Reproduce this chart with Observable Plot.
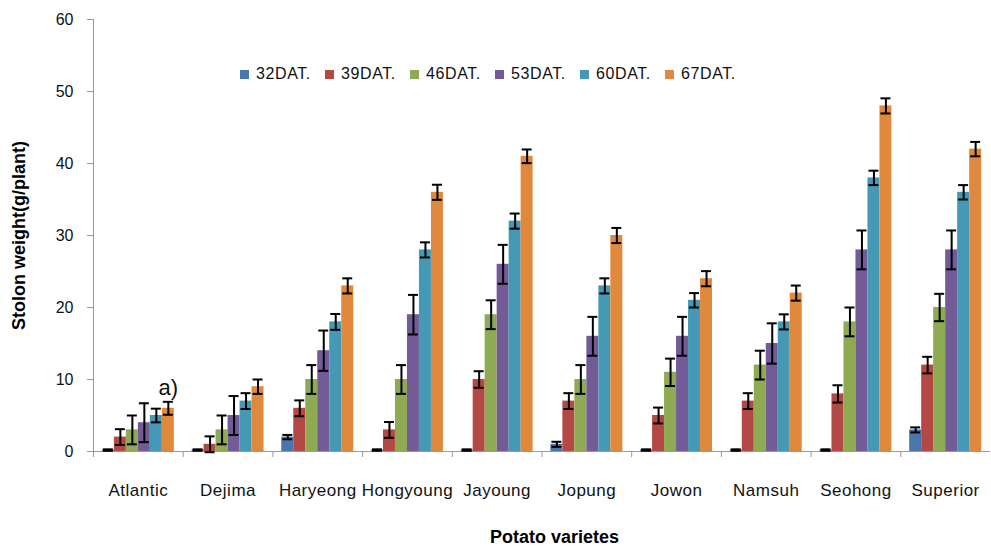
<!DOCTYPE html>
<html>
<head>
<meta charset="utf-8">
<script src="https://cdn.jsdelivr.net/npm/d3@7"></script>
<script src="https://cdn.jsdelivr.net/npm/@observablehq/plot@0.6"></script>
<style>
  body { margin: 0; background: #fff; font-family: "Liberation Sans", Arial, sans-serif; }
  #chart { position: relative; width: 991px; height: 548px; }
  #legend { position: absolute; top: 65px; left: 240px; display: flex; font-size: 16px; letter-spacing: 0.6px; color: #111; }
  #legend .item { display: flex; align-items: center; width: 85px; }
  #legend .sw { width: 9px; height: 9px; margin-right: 7px; }
  #xtitle { position: absolute; top: 527px; left: 490px; font-size: 18px; line-height: 20px; font-weight: bold; color: #000; white-space: nowrap; }
  svg [aria-label="y-axis label"] text { font-weight: bold; font-size: 18px; fill: #000; }
  svg [aria-label="fx-axis tick label"] text { letter-spacing: 0.5px; }
</style>
</head>
<body>
<div id="chart"><div id="legend"></div><div id="xtitle">Potato varietes</div></div>
<script>
// Potato varieties (x groups)
const varieties = ["Atlantic", "Dejima", "Haryeong", "Hongyoung", "Jayoung", "Jopung", "Jowon", "Namsuh", "Seohong", "Superior"];

// Sampling dates (days after transplanting)
const series = ["32DAT.", "39DAT.", "46DAT.", "53DAT.", "60DAT.", "67DAT."];
const colors = ["#4a76ad", "#b34845", "#8eaa52", "#735b98", "#4599b5", "#e0893d"];

// Mean stolon weight (g/plant), one value per variety
const w32 = [0.2, 0.2, 2, 0.2, 0.2, 1, 0.2, 0.2, 0.2, 3];
const w39 = [2, 1, 6, 3, 10, 7, 5, 7, 8, 12];
const w46 = [3, 3, 10, 10, 19, 10, 11, 12, 18, 20];
const w53 = [4, 5, 14, 19, 26, 16, 16, 15, 28, 28];
const w60 = [5, 7, 18, 28, 32, 23, 21, 18, 38, 36];
const w67 = [6, 9, 23, 36, 41, 30, 24, 22, 48, 42];

// Standard errors
const e32 = [0.1, 0.1, 0.3, 0.1, 0.1, 0.35, 0.1, 0.1, 0.1, 0.35];
const e39 = [1.1, 1.1, 1.1, 1.1, 1.15, 1.1, 1.1, 1.1, 1.2, 1.15];
const e46 = [2, 2, 2, 2, 2, 2, 1.9, 2, 2, 1.9];
const e53 = [2.7, 2.7, 2.8, 2.75, 2.7, 2.7, 2.7, 2.8, 2.7, 2.7];
const e60 = [0.95, 1.1, 1.1, 1.05, 1.05, 1.05, 1, 1.05, 1, 1];
const e67 = [0.9, 1, 1.05, 1.05, 0.95, 1.05, 1.05, 1.05, 1.05, 1];

const yTicks = [0, 10, 20, 30, 40, 50, 60];

const values = [w32, w39, w46, w53, w60, w67];
const errors = [e32, e39, e46, e53, e60, e67];

const rows = [];
varieties.forEach((v, j) => {
  series.forEach((s, i) => {
    rows.push({variety: v, series: s, value: values[i][j], err: errors[i][j]});
  });
});

// Footnote marker above the first group
const notes = [{variety: "Atlantic", series: "67DAT.", y: w67[0] + 2.8, label: "a)"}];

const plot = Plot.plot({
  width: 991,
  height: 548,
  marginLeft: 93,
  marginRight: 1,
  marginTop: 19,
  marginBottom: 97,
  style: {fontFamily: "'Liberation Sans', Arial, sans-serif", fontSize: "16px", background: "#fff", color: "#111"},
  fx: {domain: varieties, padding: 0, round: false},
  x: {domain: series, paddingInner: 0, paddingOuter: 0.74, round: false, axis: null},
  y: {domain: [0, 60]},
  color: {domain: series, range: colors},
  marks: [
    Plot.frame({anchor: "left", facetAnchor: "left", stroke: "#999"}),
    Plot.axisY({
      ticks: yTicks, tickSize: 6, tickPadding: 14, stroke: "#999", fontSize: 16,
      label: "Stolon weight(g/plant)", labelAnchor: "center", labelArrow: "none", labelOffset: 81
    }),
    Plot.axisFx({anchor: "bottom", tickSize: 0, tickPadding: 32, fontSize: 17, label: null}),
    Plot.axisFx({anchor: "bottom", text: null, label: null, tickSize: 6, stroke: "#999", dx: -44.85}),
    Plot.ruleY([0], {stroke: "#999"}),
    Plot.barY(rows, {fx: "variety", x: "series", y: "value", fill: "series", inset: 0}),
    Plot.ruleX(rows, {
      fx: "variety", x: "series",
      y1: d => d.value - d.err, y2: d => d.value + d.err,
      stroke: "#000", strokeWidth: 2
    }),
    Plot.tickY(rows, {fx: "variety", x: "series", y: d => d.value - d.err, stroke: "#000", strokeWidth: 2, insetLeft: 1, insetRight: 1}),
    Plot.tickY(rows, {fx: "variety", x: "series", y: d => d.value + d.err, stroke: "#000", strokeWidth: 2, insetLeft: 1, insetRight: 1}),
    Plot.text(notes, {fx: "variety", x: "series", y: "y", text: "label", fontSize: 22, fill: "#111"})
  ]
});

document.getElementById("chart").appendChild(plot);

// Legend row drawn inside the plot area
const legend = document.getElementById("legend");
series.forEach((s, i) => {
  const item = document.createElement("div");
  item.className = "item";
  const sw = document.createElement("span");
  sw.className = "sw";
  sw.style.background = colors[i];
  const label = document.createElement("span");
  label.textContent = s;
  item.appendChild(sw);
  item.appendChild(label);
  legend.appendChild(item);
});
</script>
</body>
</html>
